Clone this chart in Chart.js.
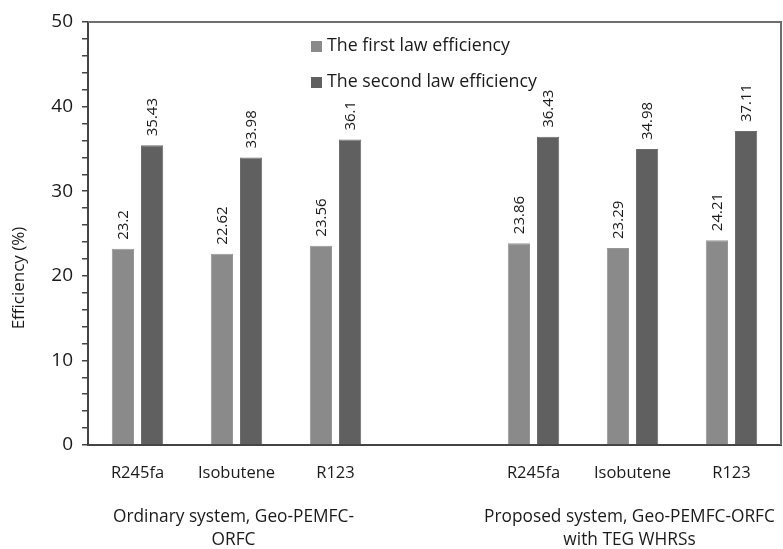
<!DOCTYPE html>
<html>
<head>
<meta charset="utf-8">
<script src="https://cdn.jsdelivr.net/npm/chart.js@4.4.1/dist/chart.umd.min.js"></script>
<style>
html,body{margin:0;padding:0;background:#fff;}
#wrap{width:783px;height:549px;position:relative;}
</style>
</head>
<body>
<div id="wrap"><canvas id="c" width="783" height="549"></canvas></div>
<script>
const categories = ['R245fa', 'Isobutene', 'R123', '', 'R245fa', 'Isobutene', 'R123'];
const groupLabels = [
  { center: 1, lines: ['Ordinary system, Geo-PEMFC-', 'ORFC'] },
  { center: 5, lines: ['Proposed system, Geo-PEMFC-ORFC', 'with TEG WHRSs'] }
];
const firstLaw = [23.2, 22.62, 23.56, null, 23.86, 23.29, 24.21];
const secondLaw = [35.43, 33.98, 36.1, null, 36.43, 34.98, 37.11];
const firstLawText = ['23.2', '22.62', '23.56', '', '23.86', '23.29', '24.21'];
const secondLawText = ['35.43', '33.98', '36.1', '', '36.43', '34.98', '37.11'];
const yTitle = 'Efficiency (%)';
const seriesNames = ['The first law efficiency', 'The second law efficiency'];

const FONT = '"Open Sans", Lato, sans-serif';
const TXT = '#1a1a1a';

const valueLabels = {
  id: 'valueLabels',
  afterDatasetsDraw(chart) {
    const ctx = chart.ctx;
    const texts = [firstLawText, secondLawText];
    ctx.save();
    ctx.font = '15px ' + FONT;
    ctx.fillStyle = TXT;
    ctx.textAlign = 'left';
    ctx.textBaseline = 'middle';
    chart.data.datasets.forEach((ds, di) => {
      const meta = chart.getDatasetMeta(di);
      meta.data.forEach((bar, i) => {
        const t = texts[di][i];
        if (!t) return;
        ctx.save();
        ctx.translate(bar.x + 1, bar.y - 9);
        ctx.rotate(-Math.PI / 2);
        ctx.fillText(t, 0, 0);
        ctx.restore();
      });
    });
    ctx.restore();
  }
};

const frameAndLegend = {
  id: 'frameAndLegend',
  afterDraw(chart) {
    const ctx = chart.ctx;
    const a = chart.chartArea;
    ctx.save();
    ctx.strokeStyle = '#6e6e6e';
    ctx.lineWidth = 2;
    ctx.beginPath();
    ctx.moveTo(a.left, a.top);
    ctx.lineTo(a.right, a.top);
    ctx.lineTo(a.right, a.bottom);
    ctx.stroke();
    // legend
    ctx.font = '17.8px ' + FONT;
    ctx.textBaseline = 'middle';
    ctx.textAlign = 'left';
    const ys = [46, 82];
    chart.data.datasets.forEach((ds, di) => {
      ctx.fillStyle = ds.backgroundColor;
      ctx.fillRect(311, ys[di] - 5, 11, 11);
      ctx.fillStyle = TXT;
      ctx.fillText(ds.label, 327, ys[di]);
    });
    // y title
    ctx.save();
    ctx.font = '17px ' + FONT;
    ctx.textAlign = 'center';
    ctx.translate(19, 278);
    ctx.rotate(-Math.PI / 2);
    ctx.fillText(yTitle, 0, 0);
    ctx.restore();
    // group labels
    const xs = chart.scales.x;
    ctx.font = '17.3px ' + FONT;
    ctx.textAlign = 'center';
    groupLabels.forEach(g => {
      const cx = xs.getPixelForValue(g.center);
      g.lines.forEach((ln, li) => {
        ctx.fillText(ln, cx - 3, 517 + li * 23);
      });
    });
    ctx.restore();
  }
};

new Chart(document.getElementById('c'), {
  type: 'bar',
  data: {
    labels: categories,
    datasets: [
      { label: seriesNames[0], data: firstLaw, backgroundColor: '#8a8a8a', borderColor: '#969696', borderWidth: 1,
        categoryPercentage: 0.59, barPercentage: 0.76 },
      { label: seriesNames[1], data: secondLaw, backgroundColor: '#606060', borderColor: '#6c6c6c', borderWidth: 1,
        categoryPercentage: 0.59, barPercentage: 0.76 }
    ]
  },
  options: {
    responsive: false,
    animation: false,
    layout: { padding: { top: 22, right: 2, left: 0, bottom: 0 } },
    plugins: { legend: { display: false }, tooltip: { enabled: false } },
    scales: {
      x: {
        grid: { display: true, drawOnChartArea: false, drawTicks: false, color: '#555' },
        border: { display: true, color: '#444', width: 2 },
        ticks: { color: TXT, font: { family: FONT, size: 16.5 }, padding: 18, maxRotation: 0, autoSkip: false },
        afterFit(s) { s.height = 104; }
      },
      y: {
        min: 0, max: 50,
        grid: { drawOnChartArea: false, drawTicks: true, tickLength: 6, color: '#444', lineWidth: 1.5 },
        border: { display: true, color: '#444', width: 2 },
        ticks: {
          stepSize: 2, autoSkip: false, color: TXT, padding: 9,
          font: { family: FONT, size: 19 },
          callback: v => (v % 10 === 0 ? String(v) : '')
        },
        afterFit(s) { s.width = 88; }
      }
    }
  },
  plugins: [valueLabels, frameAndLegend]
});
</script>
</body>
</html>
